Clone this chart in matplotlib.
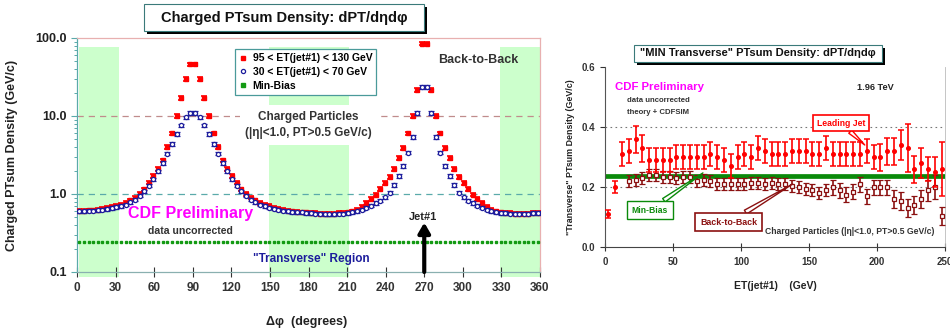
import numpy as np
import matplotlib.pyplot as plt
from matplotlib.lines import Line2D
from matplotlib.patches import Rectangle

plt.rcParams['font.family'] = ['Liberation Sans', 'DejaVu Sans']
plt.rcParams['font.weight'] = 'bold'

# ---- left panel: PTsum density vs delta phi (3.6 deg bins) ----
dphi = np.arange(1.8, 360, 3.6)

jet_95_130 = [0.61, 0.61, 0.62, 0.62, 0.63, 0.64, 0.66, 0.68, 0.70, 0.73,
              0.77, 0.83, 0.90, 1.00, 1.15, 1.40, 1.70, 2.10, 2.70, 4.00,
              6.00, 10.0, 17.0, 30.0, 46.0, 46.0, 30.0, 17.0, 10.0, 6.00,
              4.00, 2.70, 2.10, 1.70, 1.40, 1.15, 1.00, 0.90, 0.83, 0.77,
              0.73, 0.70, 0.67, 0.65, 0.63, 0.61, 0.60, 0.59, 0.58, 0.58,
              0.57, 0.57, 0.56, 0.56, 0.56, 0.56, 0.57, 0.57, 0.58, 0.60,
              0.63, 0.68, 0.77, 0.86, 0.98, 1.16, 1.38, 1.65, 2.10, 2.90,
              3.90, 6.00, 10.0, 21.5, 85.0, 85.0, 21.5, 10.0, 6.00, 3.90,
              2.90, 2.10, 1.65, 1.38, 1.16, 0.98, 0.86, 0.77, 0.68, 0.63,
              0.60, 0.58, 0.57, 0.57, 0.56, 0.56, 0.56, 0.56, 0.57, 0.57]

jet_30_70 = [0.60, 0.60, 0.61, 0.61, 0.62, 0.63, 0.64, 0.66, 0.68, 0.70,
             0.73, 0.78, 0.85, 0.95, 1.08, 1.28, 1.55, 1.95, 2.50, 3.30,
             4.40, 5.90, 7.60, 9.60, 11.0, 11.0, 9.60, 7.60, 5.90, 4.40,
             3.30, 2.50, 1.95, 1.55, 1.28, 1.08, 0.95, 0.85, 0.78, 0.73,
             0.70, 0.67, 0.65, 0.63, 0.61, 0.60, 0.59, 0.58, 0.58, 0.57,
             0.57, 0.56, 0.56, 0.55, 0.55, 0.55, 0.56, 0.56, 0.57, 0.58,
             0.60, 0.63, 0.67, 0.71, 0.77, 0.82, 0.91, 1.04, 1.30, 1.70,
             2.30, 3.40, 5.40, 11.0, 23.5, 23.5, 11.0, 5.40, 3.40, 2.30,
             1.70, 1.30, 1.04, 0.91, 0.82, 0.77, 0.71, 0.67, 0.63, 0.60,
             0.58, 0.57, 0.57, 0.56, 0.56, 0.56, 0.56, 0.56, 0.57, 0.57]

minbias_dphi = [0.24] * 100
rel_err = 0.05

# ---- right panel: "MIN transverse" density vs ET(jet#1) ----
et_lead = np.arange(2.5, 250, 5)
lead = [0.11, 0.20, 0.31, 0.32, 0.36, 0.33, 0.29, 0.29, 0.29, 0.29,
        0.30, 0.30, 0.30, 0.30, 0.30, 0.31, 0.30, 0.29, 0.27, 0.30,
        0.31, 0.30, 0.33, 0.32, 0.31, 0.31, 0.31, 0.32, 0.32, 0.32,
        0.31, 0.31, 0.33, 0.31, 0.31, 0.31, 0.31, 0.31, 0.32, 0.30,
        0.30, 0.32, 0.32, 0.34, 0.33, 0.26, 0.28, 0.26, 0.25, 0.26]
lead_err = [0.012, 0.02, 0.04, 0.04, 0.045, 0.045, 0.04, 0.04, 0.04, 0.04,
            0.04, 0.04, 0.04, 0.04, 0.04, 0.04, 0.04, 0.04, 0.04, 0.04,
            0.04, 0.04, 0.04, 0.04, 0.04, 0.04, 0.04, 0.04, 0.04, 0.04,
            0.04, 0.04, 0.04, 0.04, 0.04, 0.04, 0.04, 0.04, 0.04, 0.04,
            0.045, 0.045, 0.045, 0.05, 0.08, 0.045, 0.05, 0.04, 0.05, 0.09]

et_b2b = np.arange(17.5, 250, 5)
b2b = [0.22, 0.225, 0.23, 0.24, 0.24, 0.235, 0.235, 0.23, 0.235, 0.235,
       0.22, 0.225, 0.22, 0.21, 0.21, 0.21, 0.21, 0.21, 0.215, 0.215,
       0.21, 0.215, 0.21, 0.21, 0.205, 0.20, 0.195, 0.19, 0.18, 0.19,
       0.20, 0.19, 0.175, 0.185, 0.21, 0.17, 0.20, 0.20, 0.20, 0.16,
       0.155, 0.13, 0.14, 0.16, 0.19, 0.20, 0.105]
b2b_err = [0.02, 0.02, 0.02, 0.02, 0.02, 0.02, 0.02, 0.02, 0.02, 0.02,
           0.02, 0.02, 0.02, 0.02, 0.02, 0.02, 0.02, 0.02, 0.02, 0.02,
           0.02, 0.02, 0.02, 0.02, 0.02, 0.02, 0.02, 0.02, 0.02, 0.02,
           0.025, 0.025, 0.025, 0.025, 0.025, 0.025, 0.025, 0.025, 0.025, 0.03,
           0.03, 0.03, 0.03, 0.03, 0.035, 0.04, 0.03]
minbias_et = 0.237

fig = plt.figure(figsize=(9.5, 3.32), dpi=100)

# ================= left panel =================
ax = fig.add_axes([77/950, 1-272/332, 463/950, 234/332])
ax.set_yscale('log')
ax.set_xlim(0, 360)
ax.set_ylim(0.1, 100)

for x0, x1 in [(1.5, 33), (149, 211.5), (329, 360)]:
    ax.add_patch(Rectangle((x0, 0.086), x1 - x0, 77 - 0.086, fc='#ccffcc',
                           ec='none', zorder=0, clip_on=False))

ax.axhline(10, color='#c08c8c', lw=0.9, ls=(0, (5, 4)), zorder=1)
ax.axhline(1, color='#5aaaaa', lw=0.9, ls=(0, (5, 4)), zorder=1)

jr = np.array(jet_95_130)
jb = np.array(jet_30_70)
ax.errorbar(dphi, jr, yerr=jr*rel_err, fmt='s', ms=3.4, color='red',
            ecolor='red', elinewidth=0.8, capsize=2.4, capthick=1.2, zorder=3)
ax.errorbar(dphi, jb, yerr=jb*rel_err, fmt='o', ms=3.0, mfc='white',
            mec='#1c1c9c', mew=0.9, ecolor='#1c1c9c', elinewidth=0.8,
            capsize=2.4, capthick=1.2, zorder=4)
ax.plot(dphi, minbias_dphi, 's', ms=2.1, color='#139a13', zorder=3)

ax.text(180, 7.7, 'Charged Particles\n(|η|<1.0, PT>0.5 GeV/c)', ha='center',
        va='center', fontsize=8.5, color='#333333', linespacing=1.5,
        bbox=dict(fc='white', ec='none', pad=4), zorder=2)
ax.text(281, 52, 'Back-to-Back', ha='left', va='center', fontsize=9,
        color='#333333', zorder=5)
ax.text(88, 0.57, 'CDF Preliminary', ha='center', va='center', fontsize=11.5,
        color='#ff00ff', zorder=5)
ax.text(88, 0.335, 'data uncorrected', ha='center', va='center', fontsize=7.6,
        color='#333333', zorder=5)
ax.text(182, 0.147, '"Transverse" Region', ha='center', va='center',
        fontsize=8.5, color='#1c1c9c', zorder=5)
ax.text(269, 0.51, 'Jet#1', ha='center', va='center', fontsize=7.9,
        color='#222222', zorder=5)
ax.annotate('', xy=(270, 0.43), xytext=(270, 0.1),
            arrowprops=dict(arrowstyle='-|>,head_width=0.35,head_length=0.6',
                            lw=3, color='black', shrinkA=0, shrinkB=0), zorder=6)

handles = [Line2D([], [], ls='none', marker='s', ms=3.4, color='red'),
           Line2D([], [], ls='none', marker='o', ms=3.0, mfc='white',
                  mec='#1c1c9c', mew=0.9),
           Line2D([], [], ls='none', marker='s', ms=3.4, color='#139a13')]
leg = ax.legend(handles, ['95 < ET(jet#1) < 130 GeV', '30 < ET(jet#1) < 70 GeV',
                          'Min-Bias'],
                loc='upper left', bbox_to_anchor=(0.330, 0.975), fontsize=7.5,
                frameon=True, fancybox=False, framealpha=1, edgecolor='#4a9a9a',
                handlelength=0.8, handletextpad=0.5, labelspacing=0.35,
                borderpad=0.4)
leg.get_frame().set_linewidth(0.9)
leg.set_zorder(10)

ax.set_xticks(range(0, 361, 30))
ax.set_yticks([0.1, 1, 10, 100])
ax.set_yticklabels(['0.1', '1.0', '10.0', '100.0'])
ax.tick_params(axis='x', direction='inout', length=7, width=0.8,
               colors='#333333', labelsize=8.5, pad=4)
ax.tick_params(axis='y', which='major', direction='out', length=4,
               width=0.8, color='#5aaaaa', labelcolor='#222222', labelsize=9)
ax.tick_params(axis='y', which='minor', direction='out', length=2.5,
               width=0.7, color='#5aaaaa')
for lab in ax.get_xticklabels() + ax.get_yticklabels():
    lab.set_fontweight('bold')
ax.spines['left'].set_color('#5aaaaa')
ax.spines['bottom'].set_color('#8ab0b0')
ax.spines['top'].set_color('#e8b0b0')
ax.spines['right'].set_color('#e8b0b0')
for s in ax.spines.values():
    s.set_linewidth(0.9)

ax.set_xlabel('Δφ  (degrees)', fontsize=9, fontweight='bold', color='#222222')
ax.xaxis.set_label_coords(0.497, -0.19)
ax.set_ylabel('Charged PTsum Density (GeV/c)', fontsize=9, fontweight='bold',
              color='#222222')
ax.yaxis.set_label_coords(-0.127, 0.5)

# ================= right panel =================
ax2 = fig.add_axes([605/950, 1-247/332, 340/950, 180/332])
ax2.set_xlim(0, 250)
ax2.set_ylim(0, 0.6)

for yv in (0.2, 0.4):
    ax2.axhline(yv, color='#777777', lw=0.8, ls=(0, (1.5, 3)), zorder=1)

ax2.errorbar(et_b2b, b2b, yerr=b2b_err, fmt='s', ms=3.0, mfc='white',
             mec='#8b1010', mew=0.9, ecolor='#8b1010', elinewidth=1.2,
             capsize=2.5, capthick=1.1, zorder=3)
ax2.plot([0, 250], [minbias_et, minbias_et], color='#0a8a0a', lw=3.4,
         solid_capstyle='butt', zorder=2.5)
ax2.errorbar(et_lead, lead, yerr=lead_err, fmt='o', ms=2.6, color='red',
             ecolor='red', elinewidth=1.2, capsize=2.5, capthick=1.1, zorder=4)

ax2.text(7.5, 0.533, 'CDF Preliminary', ha='left', va='center', fontsize=8.2,
         color='#ff00ff')
ax2.text(16, 0.487, 'data uncorrected', ha='left', va='center', fontsize=5.6,
         color='#333333')
ax2.text(16, 0.45, 'theory + CDFSIM', ha='left', va='center', fontsize=5.6,
         color='#333333')
ax2.text(199, 0.53, '1.96 TeV', ha='center', va='center', fontsize=6.6,
         color='#222222')
ax2.text(180, 0.053, 'Charged Particles (|η|<1.0, PT>0.5 GeV/c)', ha='center',
         va='center', fontsize=6.2, color='#333333')

ax2.annotate('Leading Jet', xy=(191, 0.34), xytext=(173.5, 0.413),
             ha='center', va='center', fontsize=6.2, color='red',
             bbox=dict(fc='white', ec='red', lw=1.2, pad=2.5),
             arrowprops=dict(arrowstyle='wedge,tail_width=0.5', fc='white',
                             ec='red', lw=1.0, shrinkA=0, shrinkB=0), zorder=6)
ax2.annotate('Min-Bias', xy=(72, 0.247), xytext=(33, 0.123),
             ha='center', va='center', fontsize=6.2, color='#0a8a0a',
             bbox=dict(fc='white', ec='#0a8a0a', lw=1.0, pad=3.5),
             arrowprops=dict(arrowstyle='wedge,tail_width=0.5', fc='white',
                             ec='#0a8a0a', lw=1.0, shrinkA=0, shrinkB=0), zorder=6)
ax2.annotate('Back-to-Back', xy=(138, 0.21), xytext=(91, 0.083),
             ha='center', va='center', fontsize=6.4, color='#8b1010',
             bbox=dict(fc='white', ec='#8b1010', lw=1.2, pad=3.5),
             arrowprops=dict(arrowstyle='wedge,tail_width=0.5', fc='white',
                             ec='#8b1010', lw=1.0, shrinkA=0, shrinkB=0), zorder=6)

ax2.set_xticks(range(0, 251, 50))
ax2.set_yticks([0, 0.2, 0.4, 0.6])
ax2.set_yticklabels(['0.0', '0.2', '0.4', '0.6'])
ax2.tick_params(axis='x', direction='inout', length=6, width=0.8,
                colors='#333333', labelsize=7, pad=4)
ax2.tick_params(axis='y', direction='out', length=3.5, width=0.8,
                colors='#333333', labelsize=7)
for lab in ax2.get_xticklabels() + ax2.get_yticklabels():
    lab.set_fontweight('bold')
ax2.spines['top'].set_visible(False)
ax2.spines['right'].set_color('#bbbbbb')
ax2.spines['right'].set_linewidth(0.6)
ax2.spines['left'].set_color('#555555')
ax2.spines['bottom'].set_color('#444444')

ax2.set_xlabel('ET(jet#1)    (GeV)', fontsize=7.5, fontweight='bold',
               color='#222222')
ax2.xaxis.set_label_coords(0.5, -0.189)
ax2.set_ylabel('"Transverse" PTsum Density (GeV/c)', fontsize=6.4,
               fontweight='bold', color='#222222')
ax2.yaxis.set_label_coords(-0.088, 0.5)

# ================= title boxes with shadow =================
def title_box(x0, y0, w, h, text, size):
    sx, sy = 3/950, 3/332
    fig.patches.append(Rectangle((x0 + sx, y0 - sy), w, h,
                                 transform=fig.transFigure, fc='black',
                                 ec='none', zorder=1))
    fig.patches.append(Rectangle((x0, y0), w, h, transform=fig.transFigure,
                                 fc='white', ec='#3a7a7a', lw=0.8, zorder=2))
    fig.text(x0 + w/2, y0 + h/2, text, ha='center', va='center',
             fontsize=size, fontweight='bold', color='#111111', zorder=3)

title_box(144/950, 1-31/332, 280/950, 27/332,
          'Charged PTsum Density: dPT/dηdφ', 10.5)
title_box(634/950, 1-62/332, 248/950, 17/332,
          '"MIN Transverse" PTsum Density: dPT/dηdφ', 8)

fig.savefig('out.png', dpi=100, facecolor='white')
